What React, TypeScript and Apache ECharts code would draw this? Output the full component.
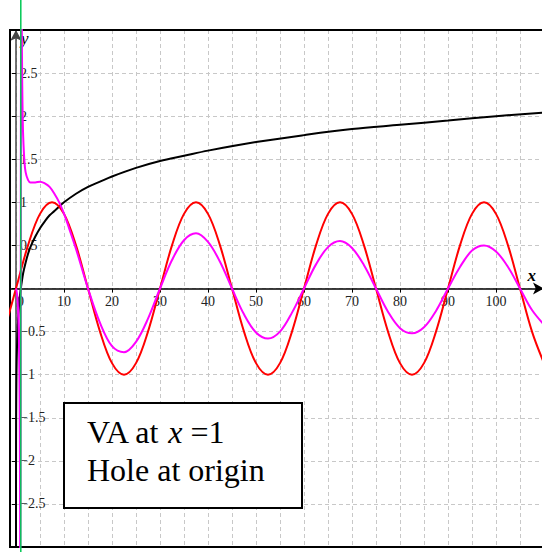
import React, { useEffect, useRef } from "react";
import * as echarts from "echarts";

// y = log10(x)
const logCurve: [number, number][] = [
  [0.0008, -3.1], [0.002, -2.7], [0.005, -2.3], [0.01, -2], [0.03, -1.52], [0.1, -1],
  [0.2, -0.7], [0.35, -0.46], [0.5, -0.3], [0.75, -0.12], [1, 0], [1.5, 0.18], [2, 0.3],
  [2.5, 0.4], [3, 0.48], [4, 0.6], [5, 0.7], [6, 0.78], [7, 0.85], [8, 0.9], [10, 1],
  [12.5, 1.1], [15, 1.18], [17.5, 1.24], [20, 1.3], [25, 1.4], [30, 1.48], [35, 1.54],
  [40, 1.6], [50, 1.7], [60, 1.78], [70, 1.85], [80, 1.9], [90, 1.95], [100, 2], [110, 2.04],
];

// periodic wave, period 30, amplitude 1
const sineCurve: [number, number][] = [
  [-2.5, -0.5], [0, 0], [2.5, 0.5], [5, 0.866], [7.5, 1], [10, 0.866], [12.5, 0.5], [15, 0],
  [17.5, -0.5], [20, -0.866], [22.5, -1], [25, -0.866], [27.5, -0.5], [30, 0],
  [32.5, 0.5], [35, 0.866], [37.5, 1], [40, 0.866], [42.5, 0.5], [45, 0],
  [47.5, -0.5], [50, -0.866], [52.5, -1], [55, -0.866], [57.5, -0.5], [60, 0],
  [62.5, 0.5], [65, 0.866], [67.5, 1], [70, 0.866], [72.5, 0.5], [75, 0],
  [77.5, -0.5], [80, -0.866], [82.5, -1], [85, -0.866], [87.5, -0.5], [90, 0],
  [92.5, 0.5], [95, 0.866], [97.5, 1], [100, 0.866], [102.5, 0.5], [105, 0],
  [107.5, -0.5], [110, -0.866],
];

// quotient of the two curves: vertical asymptote at x = 1, hole at the origin
const quotientCurve: [number, number][] = [
  [0.01, -0.001], [0.1, -0.021], [0.2, -0.06], [0.3, -0.12], [0.4, -0.21], [0.5, -0.347],
  [0.6, -0.565], [0.7, -0.943], [0.75, -1.25], [0.8, -1.72], [0.85, -2.51], [0.9, -4.09],
  [1.1, 5.52], [1.2, 3.14], [1.3, 2.36], [1.4, 1.98], [1.5, 1.76], [1.75, 1.48], [2, 1.35],
  [2.5, 1.26], [3, 1.23], [4, 1.23], [5, 1.24], [6, 1.22], [7, 1.18], [8, 1.1], [9, 1.0],
  [10, 0.87], [11, 0.71], [12.5, 0.46], [15, 0], [17.5, -0.4], [20, -0.67], [22.5, -0.74],
  [25, -0.62], [27.5, -0.35], [30, 0], [32.5, 0.33], [35, 0.56], [37.5, 0.64], [40, 0.54],
  [42.5, 0.31], [45, 0], [47.5, -0.3], [50, -0.51], [52.5, -0.58], [55, -0.5], [57.5, -0.28],
  [60, 0], [62.5, 0.28], [65, 0.48], [67.5, 0.55], [70, 0.47], [72.5, 0.27], [75, 0],
  [77.5, -0.27], [80, -0.46], [82.5, -0.52], [85, -0.45], [87.5, -0.26], [90, 0],
  [92.5, 0.25], [95, 0.44], [97.5, 0.5], [100, 0.43], [102.5, 0.25], [105, 0],
  [107.5, -0.25], [110, -0.42],
];

// asymptote marker x = 1
const asymptote: [number, number][] = [[1, -3.2], [1, 3.5]];

const xRange = [-1.25, 110];
const yRange = [-3, 3];

const SERIF = '"Liberation Serif", "Times New Roman", serif';
const GRID_COLOR = "#c8c8c8";

// plot box in pixels
const BOX = { left: 10, top: 30, width: 534, height: 517 };

function fmtNum(v: number): string {
  const s = String(Math.abs(v));
  return v < 0 ? "\u2212" + s : s;
}

export default function App() {
  const ref = useRef<HTMLDivElement>(null);

  useEffect(() => {
    if (!ref.current) return;
    const chart = echarts.init(ref.current, undefined, { renderer: "svg" });

    // shift the axes from the box edges onto the zero lines
    const xAxisShift = -BOX.height * (0 - yRange[0]) / (yRange[1] - yRange[0]);
    const yAxisShift = -BOX.width * (0 - xRange[0]) / (xRange[1] - xRange[0]);

    const gridLine = { color: GRID_COLOR, type: [4, 3], width: 1 };

    const curve = (data: [number, number][], color: string, width: number, z: number) => ({
      type: "line",
      data,
      showSymbol: false,
      symbol: "none",
      smooth: 0.35,
      lineStyle: { color, width },
      z,
    });

    chart.setOption({
      animation: false,
      backgroundColor: "#fff",
      grid: {
        left: BOX.left,
        top: BOX.top,
        width: BOX.width,
        height: BOX.height,
        outerBoundsMode: "none",
        containLabel: false,
        show: true,
        borderColor: "#000",
        borderWidth: 2,
        z: 3,
      },
      xAxis: {
        type: "value",
        min: xRange[0],
        max: xRange[1],
        minInterval: 10,
        maxInterval: 10,
        splitNumber: 11,
        position: "bottom",
        offset: xAxisShift,
        name: "x",
        nameLocation: "end",
        nameGap: -8,
        nameTextStyle: {
          fontFamily: SERIF,
          fontSize: 17,
          fontStyle: "italic",
          fontWeight: "bold",
          color: "#000",
          align: "right",
          verticalAlign: "bottom",
          padding: [0, 0, 5, 0],
        },
        axisLine: {
          onZero: false,
          symbol: ["none", "arrow"],
          symbolSize: [9, 11],
          lineStyle: { color: "#000", width: 1.5 },
        },
        axisTick: { show: true, length: 4, lineStyle: { color: "#000" } },
        axisLabel: {
          margin: 6,
          color: "#222",
          fontFamily: SERIF,
          fontSize: 14,
          formatter: (v: number) => {
            if (v === 0) return "{z|0}";
            return v % 10 === 0 && v > 0 && v < 110 ? fmtNum(v) : "";
          },
          rich: { z: { padding: [0, 0, 0, 9], fontFamily: SERIF, fontSize: 14, color: "#222" } },
        },
        splitLine: { show: true, showMinLine: false, showMaxLine: false, lineStyle: gridLine },
        minorTick: { show: false, splitNumber: 2 },
        minorSplitLine: { show: true, lineStyle: gridLine },
      },
      yAxis: {
        type: "value",
        min: yRange[0],
        max: yRange[1],
        interval: 0.5,
        position: "left",
        offset: yAxisShift,
        name: "y",
        nameLocation: "end",
        nameGap: 0,
        nameTextStyle: {
          fontFamily: SERIF,
          fontSize: 17,
          fontStyle: "italic",
          color: "#000",
          align: "left",
          verticalAlign: "top",
          padding: [0, 0, 0, 5],
        },
        axisLine: {
          onZero: false,
          symbol: ["none", "arrow"],
          symbolSize: [9, 11],
          lineStyle: { color: "#444", width: 1.5 },
        },
        axisTick: { show: true, length: 4, lineStyle: { color: "#000" } },
        axisLabel: {
          inside: true,
          margin: 4,
          color: "#222",
          fontFamily: SERIF,
          fontSize: 14,
          formatter: (v: number) => (v === 0 || Math.abs(v) >= 3 ? "" : fmtNum(v)),
        },
        splitLine: { show: true, showMinLine: false, showMaxLine: false, lineStyle: gridLine },
      },
      series: [
        curve(logCurve, "#000", 2, 3),
        curve(sineCurve, "#ff0000", 2, 4),
        curve(quotientCurve, "#ff00ff", 2, 5),
        {
          type: "line",
          data: asymptote,
          clip: false,
          showSymbol: false,
          symbol: "none",
          lineStyle: { color: "#00c853", width: 1.5 },
          z: 6,
        },
      ],
      graphic: [
        {
          type: "rect",
          z: 100,
          shape: { x: 64, y: 403, width: 238, height: 105 },
          style: { fill: "#fff", stroke: "#000", lineWidth: 2 },
        },
        {
          type: "text",
          z: 101,
          x: 87,
          y: 432,
          style: {
            text: "{a|VA at }{i|x}{a| =1}",
            verticalAlign: "middle",
            rich: {
              a: { fontFamily: SERIF, fontSize: 32, fill: "#000" },
              i: { fontFamily: SERIF, fontSize: 32, fontStyle: "italic", fill: "#000" },
            },
          },
        },
        {
          type: "text",
          z: 101,
          x: 87,
          y: 470,
          style: {
            text: "Hole at origin",
            fontFamily: SERIF,
            fontSize: 32,
            fill: "#000",
            verticalAlign: "middle",
          },
        },
      ],
    });

    return () => chart.dispose();
  }, []);

  return (
    <div
      ref={ref}
      style={{ position: "fixed", left: 0, top: 0, width: 542, height: 552, background: "#fff" }}
    />
  );
}
